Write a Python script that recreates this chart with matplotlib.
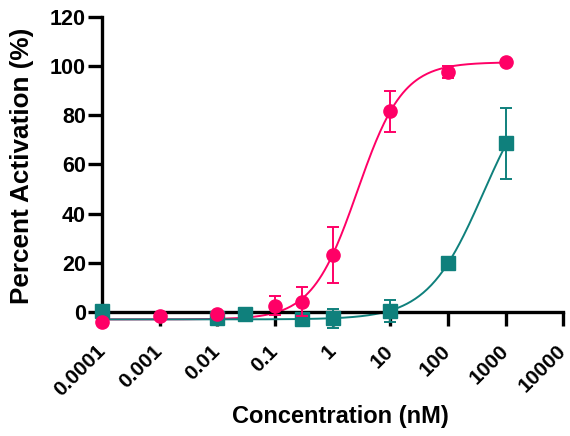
import numpy as np
import matplotlib.pyplot as plt

# measured points (concentration in nM, percent activation, error)
pink_x = [0.0001, 0.001, 0.01, 0.1, 0.3, 1, 10, 100, 1000]
pink_y = [-4.0, -1.6, -0.8, 2.6, 4.2, 23.2, 81.5, 97.5, 101.5]
pink_err = [0, 0, 0, 4.0, 6.0, 11.5, 8.4, 2.3, 0]

teal_x = [0.0001, 0.01, 0.03, 0.3, 1, 10, 100, 1000]
teal_y = [0.5, -2.6, -0.8, -2.8, -2.6, 0.3, 20.0, 68.5]
teal_err = [0, 0, 0, 0, 3.8, 4.4, 1.5, 14.5]

# four-parameter logistic fit parameters (bottom, top, ec50, hill)
pink_fit = (-3.0, 101.5, 2.7, 1.1)
teal_fit = (-3.0, 100.0, 414.0, 0.89)

xticks = [0.0001, 0.001, 0.01, 0.1, 1, 10, 100, 1000, 10000]
xtick_labels = ['0.0001', '0.001', '0.01', '0.1', '1', '10', '100', '1000', '10000']
yticks = [0, 20, 40, 60, 80, 100, 120]

PINK = '#ff0066'
TEAL = '#0f807c'


def logistic(x, bottom, top, ec50, hill):
    return bottom + (top - bottom) / (1 + (ec50 / x) ** hill)


plt.rcParams.update({
    'font.family': ['Liberation Sans', 'DejaVu Sans'],
    'font.weight': 'bold',
    'axes.labelweight': 'bold',
})

fig = plt.figure(figsize=(5.7, 4.36), dpi=100)
ax = fig.add_axes([0.179, 0.2392, 0.809, 0.7225])

xs = np.logspace(-4, 3, 300)
ax.plot(xs, logistic(xs, *pink_fit), color=PINK, linewidth=1.4, clip_on=False)
ax.plot(xs, logistic(xs, *teal_fit), color=TEAL, linewidth=1.4, clip_on=False)

ax.errorbar(teal_x, teal_y, yerr=teal_err, fmt='s', color=TEAL, markersize=9.5,
            capsize=4.5, elinewidth=1.4, capthick=1.4, clip_on=False, zorder=3)
ax.errorbar(pink_x, pink_y, yerr=pink_err, fmt='o', color=PINK, markersize=9.5,
            capsize=4.5, elinewidth=1.4, capthick=1.4, clip_on=False, zorder=4)

ax.set_xscale('log')
ax.set_xlim(0.0001, 10000)
ax.set_ylim(-8, 120)
ax.set_xticks(xticks)
ax.set_xticklabels(xtick_labels)
ax.minorticks_off()
ax.set_yticks(yticks)

ax.spines['right'].set_visible(False)
ax.spines['top'].set_visible(False)
ax.spines['bottom'].set_position(('data', 0))
ax.spines['left'].set_bounds(0, 120)
for s in ['left', 'bottom']:
    ax.spines[s].set_linewidth(2.4)
    ax.spines[s].set_zorder(2)
ax.tick_params(width=2.4, length=10, labelsize=15.5, pad=1.5)
ax.tick_params(axis='x', pad=16, labelsize=15, labelrotation=45)
plt.setp(ax.get_xticklabels(), ha='right', va='center', rotation_mode='anchor')

ax.set_xlabel('Concentration (nM)', fontsize=17)
ax.set_ylabel('Percent Activation (%)', fontsize=18.8)
ax.xaxis.label.set_va('center')
ax.xaxis.set_label_coords(0.516, -0.268)
ax.yaxis.label.set_va('center')
ax.yaxis.set_label_coords(-0.1735, 0.528)

fig.savefig('out.png', dpi=100)
